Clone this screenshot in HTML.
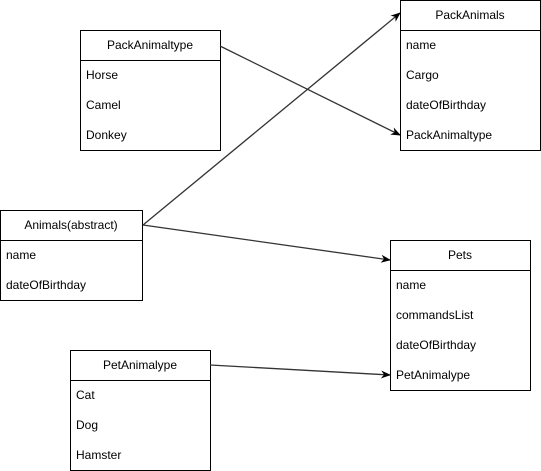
<!DOCTYPE html>
<html><head><style>
html,body{margin:0;padding:0;background:#fff;}
svg{display:block;}
text{font-family:"Liberation Sans",Arial,sans-serif;font-size:12px;fill:#000;}
</style></head><body>
<svg width="541" height="471" viewBox="0 0 541 471" xmlns="http://www.w3.org/2000/svg">
<defs>
<marker id="a" markerWidth="10" markerHeight="8" refX="9" refY="4" orient="auto" markerUnits="userSpaceOnUse">
<path d="M0,0 L10,4 L0,8 L3,4 Z" fill="#000"/>
</marker>
</defs>
<g fill="#fff" stroke="#000" stroke-width="1">
<!-- PackAnimaltype -->
<rect x="80.5" y="30.5" width="140" height="120"/>
<line x1="80.5" y1="60.5" x2="220.5" y2="60.5"/>
<!-- PackAnimals -->
<rect x="400.5" y="0.5" width="140" height="150"/>
<line x1="400.5" y1="30.5" x2="540.5" y2="30.5"/>
<!-- Animals -->
<rect x="0.5" y="210.5" width="142" height="90"/>
<line x1="0.5" y1="240.5" x2="142.5" y2="240.5"/>
<!-- Pets -->
<rect x="390.5" y="240.5" width="140" height="150"/>
<line x1="390.5" y1="270.5" x2="530.5" y2="270.5"/>
<!-- PetAnimalype -->
<rect x="70.5" y="350.5" width="140" height="120"/>
<line x1="70.5" y1="380.5" x2="210.5" y2="380.5"/>
</g>
<g stroke="#333" stroke-width="1.3" fill="none">
<line x1="143" y1="225" x2="400" y2="13" marker-end="url(#a)"/>
<line x1="220" y1="46" x2="400" y2="135" marker-end="url(#a)"/>
<line x1="143" y1="225" x2="390" y2="260" marker-end="url(#a)"/>
<line x1="210" y1="365" x2="390" y2="375" marker-end="url(#a)"/>
</g>
<text x="150" y="49" text-anchor="middle">PackAnimaltype</text>
<text x="86" y="79">Horse</text>
<text x="86" y="109">Camel</text>
<text x="86" y="139">Donkey</text>
<text x="470" y="19" text-anchor="middle">PackAnimals</text>
<text x="406" y="49">name</text>
<text x="406" y="79">Cargo</text>
<text x="406" y="109">dateOfBirthday</text>
<text x="406" y="139">PackAnimaltype</text>
<text x="71" y="229" text-anchor="middle">Animals(abstract)</text>
<text x="6" y="259">name</text>
<text x="6" y="289">dateOfBirthday</text>
<text x="460" y="259" text-anchor="middle">Pets</text>
<text x="396" y="289">name</text>
<text x="396" y="319">commandsList</text>
<text x="396" y="349">dateOfBirthday</text>
<text x="396" y="379">PetAnimalype</text>
<text x="140" y="369" text-anchor="middle">PetAnimalype</text>
<text x="76" y="399">Cat</text>
<text x="76" y="429">Dog</text>
<text x="76" y="459">Hamster</text>
</svg>
</body></html>
